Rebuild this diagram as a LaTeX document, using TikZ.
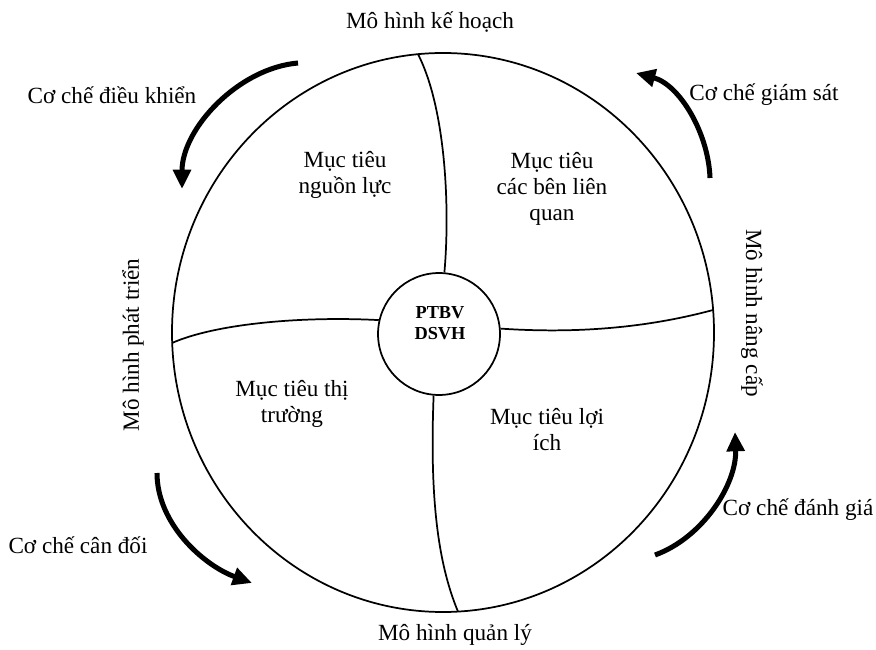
\documentclass[tikz,border=0pt]{standalone}
\usepackage{fontspec}
\setmainfont{Liberation Serif}
\usetikzlibrary{calc,arrows.meta}

\begin{document}
\begin{tikzpicture}[x=0.0182cm,y=0.0182cm,
  lbl/.style={font=\fontsize{12}{13.5}\selectfont, align=center, inner sep=0pt},
  mech/.style={line width=2.6pt, -{Triangle[length=10pt,width=9pt]}},
  part/.style={line width=0.9pt}]
\useasboundingbox (0,0) rectangle (876,649);
\coordinate (ctr) at (443,316.5);
\draw[part] (ctr) ellipse[x radius=271, y radius=279.5];
\node[draw, circle, part, minimum size=2.22cm, inner sep=0pt] (core) at (439,315) {};
\node[font=\bfseries\fontsize{9.5}{11}\selectfont, align=center, inner sep=0pt] (coreTxt) at (440,326) {PTBV\\DSVH};
% ends of the dividers on the outer ring
\coordinate (kTop) at (418,594.8);
\coordinate (kBot) at (458,37.4);
\coordinate (kLeft) at (172,306);
\coordinate (kRight) at (713,339);
\draw[part] (kTop) .. controls (446,540) and (450,440) .. (core.85);
\draw[part] (core.265) .. controls (430,160) and (436,90) .. (kBot);
\draw[part] (kLeft) .. controls (215,325) and (300,333) .. (core.167);
\draw[part] (core.5) .. controls (580,315) and (650,322) .. (kRight);
% four models
\node[lbl] (mTop) at (430,627) {Mô hình kế hoạch};
\node[lbl] (mBot) at (455,14) {Mô hình quản lý};
\node[lbl, rotate=90] (mLeft) at (133,304) {Mô hình phát triển};
\node[lbl, rotate=-90] (mRight) at (752,336) {Mô hình nâng cấp};
% four goals
\node[lbl] (gRes) at (345,474) {Mục tiêu\\nguồn lực};
\node[lbl] (gStk) at (552,460) {Mục tiêu\\các bên liên\\quan};
\node[lbl] (gMkt) at (292,245) {Mục tiêu thị\\trường};
\node[lbl] (gBen) at (547,219) {Mục tiêu lợi\\ích};
% mechanisms
\node[lbl] (cDk) at (112,554) {Cơ chế điều khiển};
\node[lbl] (cGs) at (764,554) {Cơ chế giám sát};
\node[lbl] (cCd) at (78,104) {Cơ chế cân đối};
\node[lbl] (cDg) at (798,139) {Cơ chế đánh giá};
\coordinate (dkA) at (298,586); \coordinate (dkB) at (182,460);
\coordinate (gsA) at (710,471); \coordinate (gsB) at (636,576);
\coordinate (cdA) at (157,176); \coordinate (cdB) at (252,66);
\coordinate (dgA) at (655,94);  \coordinate (dgB) at (735,217);
\draw[mech] (dkA) to[out=185, in=90, looseness=0.9] (dkB);
\draw[mech] (gsA) to[out=92, in=-15, looseness=0.9] (gsB);
\draw[mech] (cdA) to[out=-90, in=160, looseness=0.9] (cdB);
\draw[mech] (dgA) to[out=20, in=-88, looseness=0.9] (dgB);
\end{tikzpicture}
\end{document}
